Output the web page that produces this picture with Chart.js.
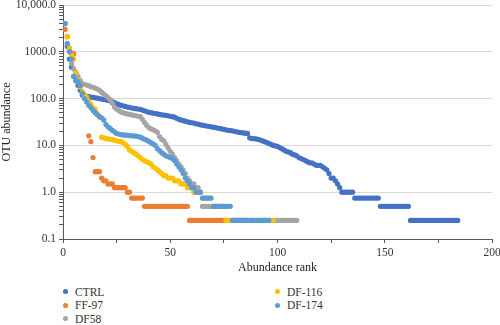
<!DOCTYPE html>
<html>
<head>
<meta charset="utf-8">
<script src="https://cdn.jsdelivr.net/npm/chart.js@4/dist/chart.umd.min.js"></script>
<style>
  html, body { margin: 0; padding: 0; background: #ffffff; }
  #wrap { position: relative; width: 500px; height: 325px; }
  #c { position: absolute; left: 0; top: 0; }
  .lg { position: absolute; font-family: "Liberation Serif", "DejaVu Serif", serif; font-size: 11.5px; color: #333333; white-space: nowrap; }
  .lg span.dot { position: absolute; width: 5px; height: 5px; border-radius: 50%; }
</style>
</head>
<body>
<div id="wrap">
  <canvas id="c" width="500" height="280"></canvas>
  <div id="legend"></div>
</div>
<script>
// ---- data (x = abundance rank = position + 1) ----
const seriesNames = ['CTRL', 'FF-97', 'DF58', 'DF-116', 'DF-174'];
const seriesColors = ['#4472C4', '#ED7D31', '#A5A5A5', '#FFC000', '#5B9BD5'];

const ctrl = [
  4000,1300,700,470,300,240,190,150,120,115,
  112,110,108,106,104,102,100,98,96,94,
  92,90,86,82,78,75,72,70,68,66,
  65,63,62,61,60,59,57,55,53,51,
  50,49,48,47,46,45,44.5,44,43,42,
  41,40,38,36,35,34,33,32,31,30.5,
  30,29,28.5,27.5,27,26.5,26,25.5,25,24.5,
  24,23.5,23,22.5,22,21.5,21,20.75,20.5,20,
  19.5,19,18.75,18.5,18.25,18,14.5,14,14,13.75,
  13.5,13,12.5,12,11.5,11,10.5,10,9.75,9.5,
  9,8.5,8,7.5,7.25,7,6.5,6.25,6,5.5,
  5.25,5,4.75,4.5,4.25,4.25,4,3.75,3.75,3.75,
  3.5,3.25,3,2.5,2,2,1.75,1.5,1.25,1,
  1,1,1,1,1,
  0.75,0.75,0.75,0.75,0.75,0.75,0.75,0.75,0.75,0.75,0.75,0.75,
  0.5,0.5,0.5,0.5,0.5,0.5,0.5,0.5,0.5,0.5,0.5,0.5,0.5,0.5,
  0.25,0.25,0.25,0.25,0.25,0.25,0.25,0.25,0.25,0.25,0.25,0.25,
  0.25,0.25,0.25,0.25,0.25,0.25,0.25,0.25,0.25,0.25,0.25
];

const ff97 = [
  3000,2100,1200,950,900,350,250,180,137,120,
  107,16,12,5.5,2.75,2.75,2.75,2,1.75,1.75,
  1.5,1.5,1.5,1.25,1.25,1.25,1.25,1.25,1.25,1,
  1,0.75,0.75,0.75,0.75,0.75,0.75,
  0.5,0.5,0.5,0.5,0.5,0.5,0.5,0.5,0.5,0.5,0.5,
  0.5,0.5,0.5,0.5,0.5,0.5,0.5,0.5,0.5,0.5,
  0.25,0.25,0.25,0.25,0.25,0.25,0.25,0.25,0.25,
  0.25,0.25,0.25,0.25,0.25,0.25,0.25,0.25,0.25
];

const df58 = [
  4000,1500,1050,560,430,370,300,245,210,200,
  195,190,180,175,168,160,150,137,125,115,
  105,95,80,66,60,56,52,50,48,47,
  46,45,44,43,42,41,36,31,27,24,
  22.5,21.5,20.5,19,15.5,13.5,12.5,10.5,8.75,7.5,
  6.5,5.5,4.75,4,3.5,3,2.5,2,1.75,1.5,
  1.5,1.25,1.25,1,
  0.5,0.5,0.5,0.5,0.5,0.5,0.5,0.5,0.5,0.5,0.5,
  0.25,0.25,0.25,0.25,0.25,0.25,0.25,0.25,0.25,0.25,0.25,0.25,
  0.25,0.25,0.25,0.25,0.25,0.25,0.25,0.25,0.25,0.25,0.25,0.25,
  0.25,0.25,0.25,0.25,0.25,0.25,0.25,0.25,0.25,0.25
];

const df116 = [
  4000,2100,1200,850,700,350,250,180,137,120,
  107,90,75,62,60,48,40,15,14.5,14,
  13.75,13.5,13.25,13,12.5,12.25,12,11.5,10.5,9.5,
  8,7.5,7,6.5,6,5.5,5,4.75,4.5,4.25,
  4,3.5,3.25,3,2.75,2.5,2.25,2.25,2,2,
  2,1.75,1.75,1.75,1.5,1.5,1.5,1.25,1.25,1.25,
  1,1,1,1,0.75,0.75,0.75,0.75,0.75,
  0.5,0.5,0.5,0.5,0.5,0.5,
  0.25,0.25,0.25,0.25,0.25,0.25,0.25,0.25,0.25,0.25,0.25,0.25,
  0.25,0.25,0.25,0.25,0.25,0.25,0.25,0.25,0.25,0.25,0.25
];

const df174 = [
  4000,1500,1000,700,300,245,230,190,130,100,
  85,72,64,56,50,45,42,39,35,28,
  25,23,21,19.5,18,17.5,17,16.75,16.5,16.5,
  16.25,16,16,15.75,15.5,15,14.25,13.5,13,12.25,
  11.5,10.75,10,8.5,7.75,7,6.5,6,5.75,5.5,
  5.25,4.75,4,3.5,3,2.5,2,1.75,1.5,1.25,
  1.25,1,1,1,0.75,0.75,0.75,0.75,0.75,
  0.5,0.5,0.5,0.5,0.5,0.5,0.5,0.5,0.5,
  0.25,0.25,0.25,0.25,0.25,0.25,0.25,0.25,0.25,
  0.25,0.25,0.25,0.25,0.25,0.25,0.25,0.25,0.25
];

const seriesValues = [ctrl, ff97, df58, df116, df174];

// axis tick labels
const xTickLabels = ['0', '50', '100', '150', '200'];
const yMajorValues = [0.1, 1, 10, 100, 1000, 10000];
const yTickLabels = ['0.1', '1.0', '10.0', '100.0', '1000.0', '10,000.0'];
const yMinorMultipliers = [2, 3, 4, 5, 6, 7, 8, 9];

// ---- chart ----
const FONT = '"Liberation Serif", "DejaVu Serif", serif';
const AXIS = '#595959';

const datasets = seriesNames.map((name, s) => ({
  label: name,
  data: seriesValues[s].map((v, i) => ({ x: i + 1, y: v })),
  backgroundColor: seriesColors[s],
  borderWidth: 0,
  pointRadius: 2.6,
  pointHoverRadius: 2.6,
  showLine: false,
  order: seriesNames.length - s
}));

function majorIndex(v) {
  for (let i = 0; i < yMajorValues.length; i++) {
    if (Math.abs(Math.log10(v) - Math.log10(yMajorValues[i])) < 1e-6) return i;
  }
  return -1;
}

new Chart(document.getElementById('c'), {
  type: 'scatter',
  data: { datasets },
  options: {
    responsive: false,
    animation: false,
    events: [],
    layout: { padding: { top: 5, right: 8, left: 0, bottom: 0 } },
    plugins: { legend: { display: false }, tooltip: { enabled: false } },
    scales: {
      x: {
        type: 'linear',
        min: 0, max: 200,
        border: { color: AXIS, width: 1 },
        grid: { drawOnChartArea: false, drawTicks: true, tickLength: 4, tickColor: AXIS },
        ticks: {
          stepSize: 25,
          autoSkip: false,
          maxRotation: 0,
          padding: 3,
          color: '#333333',
          font: { family: FONT, size: 11.5 },
          callback: (v) => {
            const idx = xTickLabels.indexOf(String(v));
            return idx >= 0 ? xTickLabels[idx] : '';
          }
        },
        title: {
          display: true, text: 'Abundance rank', color: '#222222',
          font: { family: FONT, size: 12 }, padding: { top: 0, bottom: 5 }
        },
        afterFit: (s) => { s.height = 41; s.paddingLeft = 0; s.paddingRight = 0; }
      },
      y: {
        type: 'logarithmic',
        min: 0.1, max: 10000,
        border: { color: AXIS, width: 1 },
        afterBuildTicks: (s) => {
          const t = [];
          for (let d = 0; d < yMajorValues.length; d++) {
            t.push({ value: yMajorValues[d], major: true });
            if (d < yMajorValues.length - 1) {
              yMinorMultipliers.forEach(m => t.push({ value: m * yMajorValues[d], major: false }));
            }
          }
          s.ticks = t;
        },
        grid: {
          drawTicks: true, tickLength: 4, tickColor: AXIS,
          color: (ctx) => (ctx.tick && majorIndex(ctx.tick.value) >= 0) ? '#D9D9D9' : 'rgba(0,0,0,0)',
          lineWidth: 1
        },
        ticks: {
          autoSkip: false,
          padding: 3,
          color: '#333333',
          font: { family: FONT, size: 11.5 },
          callback: (v) => {
            const i = majorIndex(v);
            return i >= 0 ? yTickLabels[i] : '';
          }
        },
        title: {
          display: true, text: 'OTU abundance', color: '#222222',
          font: { family: FONT, size: 12 }, padding: { top: 0, bottom: 0 }
        },
        afterFit: (s) => { s.width = 63; s.paddingTop = 0; s.paddingBottom = 0; }
      }
    }
  }
});

// ---- legend (two columns, as in the reference) ----
const legendPos = [
  { x: 65, y: 291.5 }, { x: 65, y: 305 }, { x: 65, y: 318.5 },
  { x: 277, y: 291.5 }, { x: 277, y: 305 }
];
const lg = document.getElementById('legend');
seriesNames.forEach((name, i) => {
  const p = legendPos[i];
  const d = document.createElement('div');
  d.className = 'lg';
  d.style.left = (p.x - 3) + 'px';
  d.style.top = (p.y - 8) + 'px';
  d.style.height = '16px';
  d.style.lineHeight = '16px';
  d.style.paddingLeft = '13px';
  const dot = document.createElement('span');
  dot.className = 'dot';
  dot.style.background = seriesColors[i];
  dot.style.left = '0.5px';
  dot.style.top = '5.5px';
  d.appendChild(dot);
  d.appendChild(document.createTextNode(name));
  lg.appendChild(d);
});
</script>
</body>
</html>
